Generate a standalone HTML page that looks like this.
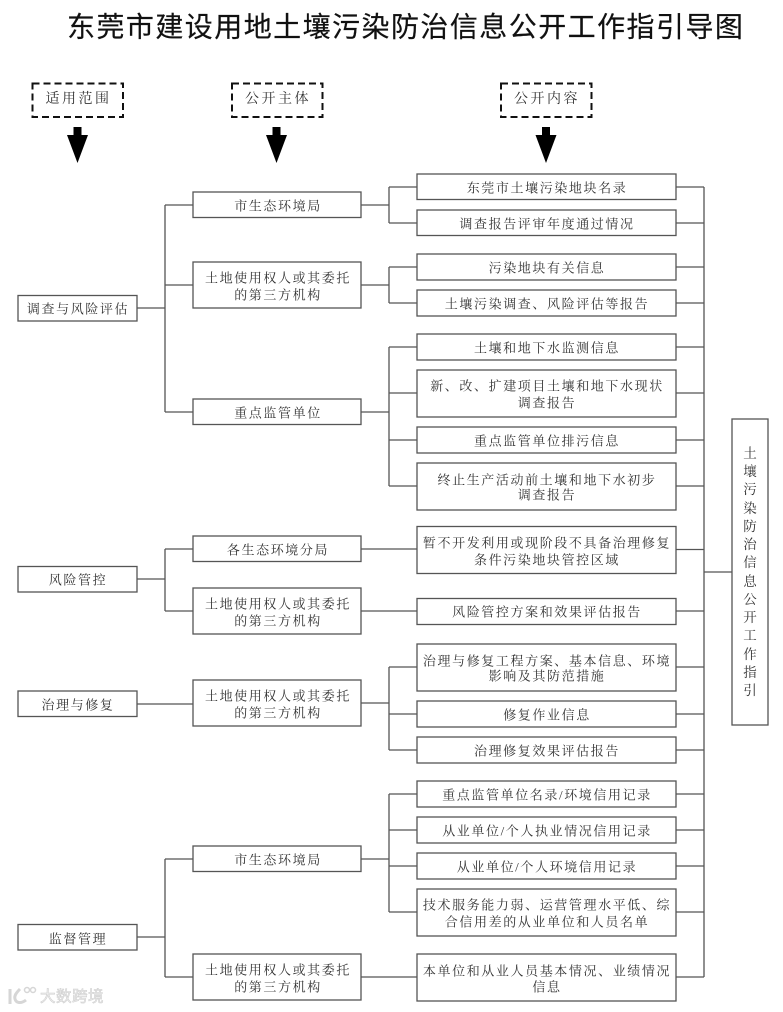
<!DOCTYPE html>
<html lang="zh"><head><meta charset="utf-8"><title>东莞市建设用地土壤污染防治信息公开工作指引导图</title>
<style>
html,body{margin:0;padding:0;background:#fff;width:783px;height:1012px;overflow:hidden}
svg{display:block;filter:blur(.35px)}
.b{fill:#fff;stroke:#555;stroke-width:1.3}
.l{fill:none;stroke:#555;stroke-width:1.3}
.t{font-family:"Liberation Serif","Noto Serif CJK SC",serif;font-size:13px;letter-spacing:1.6px;fill:#333;text-anchor:middle;dominant-baseline:central;transform:translateY(1px)}
.d{font-family:"Liberation Serif","Noto Serif CJK SC",serif;font-size:14px;letter-spacing:2.5px;fill:#333;text-anchor:middle;dominant-baseline:central}
.v{font-family:"Liberation Serif","Noto Serif CJK SC",serif;font-size:13.5px;fill:#333;text-anchor:middle;dominant-baseline:central;transform:translateY(.5px)}
.h{font-family:"Liberation Sans","Noto Sans CJK SC",sans-serif;font-size:28px;letter-spacing:1.45px;fill:#111;text-anchor:start;dominant-baseline:central;stroke:#111;stroke-width:.2}
.w{font-family:"Liberation Sans","Noto Sans CJK SC",sans-serif;font-size:15.5px;letter-spacing:.5px;fill:#f2f2f2;stroke:#cfcfcf;stroke-width:.6;dominant-baseline:central}
</style></head><body>
<svg width="783" height="1012" viewBox="0 0 783 1012" xmlns="http://www.w3.org/2000/svg">
<text class="h" x="67" y="27">东莞市建设用地土壤污染防治信息公开工作指引导图</text>

<!-- dashed headers -->
<g fill="none" stroke="#111" stroke-width="2" stroke-dasharray="7 4">
<rect x="32.5" y="83.5" width="90.5" height="33.5"/>
<rect x="232" y="83.5" width="90.5" height="33.5"/>
<rect x="501" y="83.5" width="90.5" height="33.5"/>
</g>
<text class="d" x="78.5" y="99.5">适用范围</text>
<text class="d" x="278" y="99.5">公开主体</text>
<text class="d" x="547" y="99.5">公开内容</text>
<g fill="#000">
<polygon points="73.5,127 81.5,127 81.5,135 88,135 77.5,163 67,135 73.5,135"/>
<polygon points="272.5,127 280.5,127 280.5,135 287,135 276.5,163 266,135 272.5,135"/>
<polygon points="542,127 550,127 550,135 556.5,135 546,163 535.5,135 542,135"/>
</g>

<!-- connectors -->
<path class="l" d="M137 308H165M165 205V412M165 205H193M165 285H193M165 412H193"/>
<path class="l" d="M137 579H165M165 549V611M165 549H193M165 611H193"/>
<path class="l" d="M137 704H193"/>
<path class="l" d="M137 937H165M165 859V977M165 859H193M165 977H193"/>
<path class="l" d="M361 205H389M389 187V223M389 187H417M389 223H417"/>
<path class="l" d="M361 285H389M389 267V303M389 267H417M389 303H417"/>
<path class="l" d="M361 412H389M389 347V486M389 347H417M389 393H417M389 440H417M389 486H417"/>
<path class="l" d="M361 549H417M361 611H417"/>
<path class="l" d="M361 703H389M389 667V750M389 667H417M389 714H417M389 750H417"/>
<path class="l" d="M361 859H389M389 794V912M389 794H417M389 830H417M389 866H417M389 912H417"/>
<path class="l" d="M361 977H417"/>
<path class="l" d="M676 187H704M676 223H704M676 267H704M676 303H704M676 347H704M676 393H704M676 440H704M676 486H704M676 549.500H704M676 611H704M676 667H704M676 714H704M676 750H704M676 794H704M676 830H704M676 866H704M676 912H704M676 977H704M704 187V977M704 572H732"/>

<!-- left boxes -->
<rect class="b" x="18" y="295.500" width="119" height="25.500"/>
<rect class="b" x="18" y="566.500" width="119" height="25.500"/>
<rect class="b" x="18" y="691" width="119" height="25.500"/>
<rect class="b" x="18" y="924.500" width="119" height="25.500"/>
<text class="t" x="78" y="308">调查与风险评估</text>
<text class="t" x="78" y="579">风险管控</text>
<text class="t" x="78" y="704">治理与修复</text>
<text class="t" x="78" y="938">监督管理</text>

<!-- middle boxes -->
<rect class="b" x="193" y="192" width="168" height="25.500"/>
<rect class="b" x="193" y="262" width="168" height="46"/>
<rect class="b" x="193" y="399" width="168" height="25.500"/>
<rect class="b" x="193" y="536" width="168" height="25.500"/>
<rect class="b" x="193" y="588" width="168" height="46"/>
<rect class="b" x="193" y="680" width="168" height="46"/>
<rect class="b" x="193" y="846" width="168" height="25.500"/>
<rect class="b" x="193" y="954" width="168" height="46"/>
<text class="t" x="278" y="205">市生态环境局</text>
<text class="t" x="278" y="277">土地使用权人或其委托</text>
<text class="t" x="278" y="294">的第三方机构</text>
<text class="t" x="278" y="412">重点监管单位</text>
<text class="t" x="278" y="549">各生态环境分局</text>
<text class="t" x="278" y="603">土地使用权人或其委托</text>
<text class="t" x="278" y="620">的第三方机构</text>
<text class="t" x="278" y="695">土地使用权人或其委托</text>
<text class="t" x="278" y="712">的第三方机构</text>
<text class="t" x="278" y="859">市生态环境局</text>
<text class="t" x="278" y="969">土地使用权人或其委托</text>
<text class="t" x="278" y="986">的第三方机构</text>

<!-- right boxes -->
<rect class="b" x="417" y="174" width="259" height="25.500"/>
<rect class="b" x="417" y="210" width="259" height="25.500"/>
<rect class="b" x="417" y="254" width="259" height="26"/>
<rect class="b" x="417" y="290" width="259" height="26"/>
<rect class="b" x="417" y="334" width="259" height="26"/>
<rect class="b" x="417" y="370" width="259" height="47"/>
<rect class="b" x="417" y="427" width="259" height="26"/>
<rect class="b" x="417" y="463" width="259" height="47"/>
<rect class="b" x="417" y="526.500" width="259" height="47"/>
<rect class="b" x="417" y="598.500" width="259" height="26"/>
<rect class="b" x="417" y="644" width="259" height="47"/>
<rect class="b" x="417" y="701" width="259" height="26"/>
<rect class="b" x="417" y="737" width="259" height="26"/>
<rect class="b" x="417" y="781" width="259" height="26"/>
<rect class="b" x="417" y="817" width="259" height="26"/>
<rect class="b" x="417" y="853" width="259" height="26"/>
<rect class="b" x="417" y="889" width="259" height="47"/>
<rect class="b" x="417" y="954" width="259" height="47"/>
<text class="t" x="547" y="187">东莞市土壤污染地块名录</text>
<text class="t" x="547" y="223">调查报告评审年度通过情况</text>
<text class="t" x="547" y="267">污染地块有关信息</text>
<text class="t" x="547" y="303">土壤污染调查、风险评估等报告</text>
<text class="t" x="547" y="347">土壤和地下水监测信息</text>
<text class="t" x="547" y="385">新、改、扩建项目土壤和地下水现状</text>
<text class="t" x="547" y="402">调查报告</text>
<text class="t" x="547" y="440">重点监管单位排污信息</text>
<text class="t" x="547" y="479">终止生产活动前土壤和地下水初步</text>
<text class="t" x="547" y="494">调查报告</text>
<text class="t" x="547" y="542">暂不开发利用或现阶段不具备治理修复</text>
<text class="t" x="547" y="559">条件污染地块管控区域</text>
<text class="t" x="547" y="611">风险管控方案和效果评估报告</text>
<text class="t" x="547" y="660">治理与修复工程方案、基本信息、环境</text>
<text class="t" x="547" y="675">影响及其防范措施</text>
<text class="t" x="547" y="714">修复作业信息</text>
<text class="t" x="547" y="750">治理修复效果评估报告</text>
<text class="t" x="547" y="794">重点监管单位名录/环境信用记录</text>
<text class="t" x="547" y="830">从业单位/个人执业情况信用记录</text>
<text class="t" x="547" y="866">从业单位/个人环境信用记录</text>
<text class="t" x="547" y="904">技术服务能力弱、运营管理水平低、综</text>
<text class="t" x="547" y="921">合信用差的从业单位和人员名单</text>
<text class="t" x="547" y="970">本单位和从业人员基本情况、业绩情况</text>
<text class="t" x="547" y="986">信息</text>

<!-- tall box -->
<rect class="b" x="732" y="419" width="36" height="306"/>
<text class="v" x="750" y="453">土</text>
<text class="v" x="750" y="471">壤</text>
<text class="v" x="750" y="489">污</text>
<text class="v" x="750" y="508">染</text>
<text class="v" x="750" y="526">防</text>
<text class="v" x="750" y="544">治</text>
<text class="v" x="750" y="562">信</text>
<text class="v" x="750" y="581">息</text>
<text class="v" x="750" y="599">公</text>
<text class="v" x="750" y="617">开</text>
<text class="v" x="750" y="635">工</text>
<text class="v" x="750" y="654">作</text>
<text class="v" x="750" y="672">指</text>
<text class="v" x="750" y="690">引</text>

<!-- watermark -->
<g fill="none" stroke="#d6d6d6" stroke-width="3">
<path d="M10 989V1004M20 989C16 993 14 996 15 999C16 1003 21 1004 26 1000"/>
<circle cx="27" cy="990" r="2.500" stroke-width="1.500"/>
<circle cx="33" cy="990" r="2.500" stroke-width="1.500"/>
</g>
<text class="w" x="40" y="997">大数跨境</text>
</svg>
</body></html>
